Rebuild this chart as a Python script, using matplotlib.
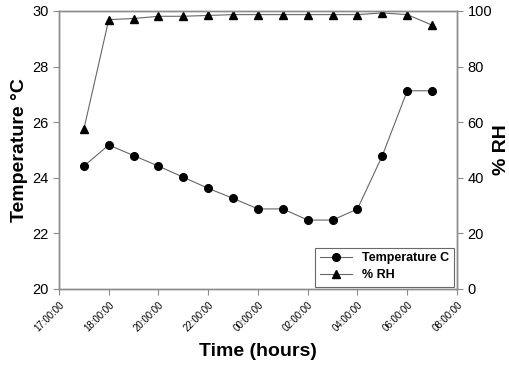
import matplotlib.pyplot as plt

plt.rcParams['font.family'] = ['Liberation Sans', 'DejaVu Sans']

# Heures depuis 16:00 (un point par heure, 17:00 -> 07:00)
hours = [1, 2, 3, 4, 5, 6, 7, 8, 9, 10, 11, 12, 13, 14, 15]
temperature = [24.42, 25.18, 24.80, 24.42, 24.02, 23.62, 23.26, 22.88,
               22.88, 22.48, 22.48, 22.88, 24.80, 27.13, 27.13]
rh = [57.5, 96.9, 97.3, 98.1, 98.1, 98.4, 98.7, 98.7,
      98.7, 98.7, 98.7, 98.7, 99.3, 98.7, 94.9]

tick_pos = [0, 2, 4, 6, 8, 10, 12, 14, 16]
tick_labels = ["17:00:00", "18:00:00", "20:00:00", "22:00:00", "00:00:00",
               "02:00:00", "04:00:00", "06:00:00", "08:00:00"]

spine_col = '#8c8c8c'
line_col = '#666666'

fig = plt.figure(figsize=(5.1, 3.65), dpi=100)
ax = fig.add_axes([59 / 510, 1 - 289 / 365, 398 / 510, 278 / 365])
ax2 = ax.twinx()

l1, = ax.plot(hours, temperature, color=line_col, lw=0.8, marker='o',
              markersize=5.5, markerfacecolor='black', markeredgecolor='black',
              label='Temperature C')
l2, = ax2.plot(hours, rh, color=line_col, lw=0.8, marker='^',
               markersize=6, markerfacecolor='black', markeredgecolor='black',
               label='% RH')

ax.set_xlim(0, 16)
ax.set_ylim(20, 30)
ax2.set_ylim(0, 100)
ax.set_xticks(tick_pos)
ax.set_xticklabels(tick_labels, rotation=45, ha='right', rotation_mode='anchor',
                   fontsize=7)
ax.set_yticks([20, 22, 24, 26, 28, 30])
ax2.set_yticks([0, 20, 40, 60, 80, 100])

for a in (ax, ax2):
    for s in a.spines.values():
        s.set_color(spine_col)
        s.set_linewidth(1.0)
    a.tick_params(direction='out', color=spine_col, length=4, labelsize=10.5)
ax.tick_params(axis='x', labelsize=7)

ax.set_ylabel('Temperature °C', fontsize=14, fontweight='bold', labelpad=3)
ax2.set_ylabel('% RH', fontsize=14, fontweight='bold', labelpad=1)
ax.set_xlabel('Time (hours)', fontsize=14, fontweight='bold', labelpad=7)

leg = ax.legend(handles=[l1, l2], loc='lower right',
                prop={'weight': 'bold', 'size': 9}, frameon=True, fancybox=False,
                borderaxespad=0.2, handlelength=2.6, labelspacing=0.4)
leg.get_frame().set_edgecolor('#444444')
leg.get_frame().set_linewidth(0.8)

fig.savefig('out.png', dpi=100)
